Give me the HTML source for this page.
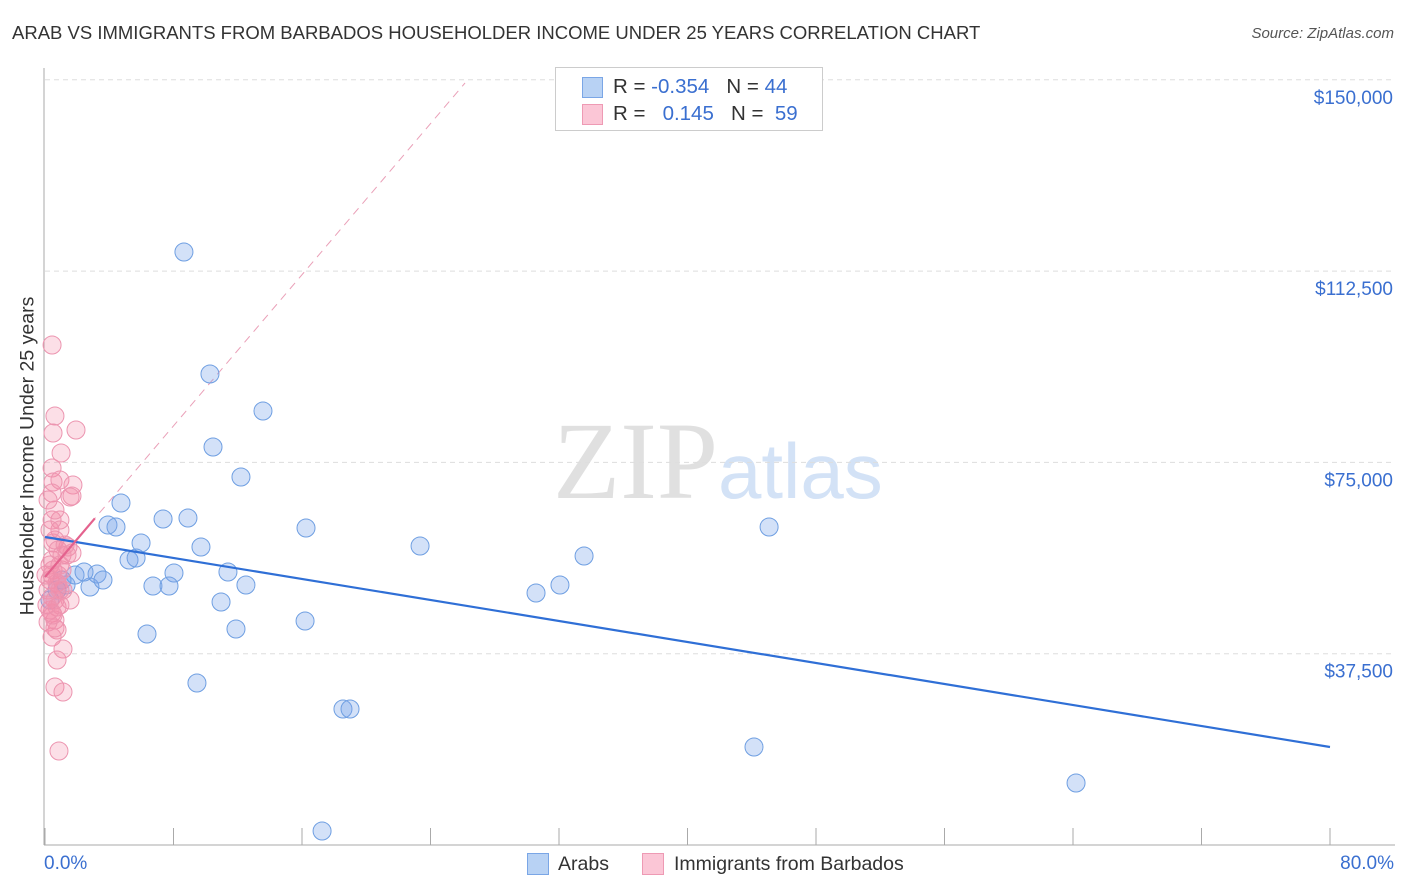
<!DOCTYPE html>
<html><head><meta charset="utf-8">
<style>
body{margin:0;background:#fff;font-family:"Liberation Sans",sans-serif;}
#wrap{position:relative;width:1406px;height:892px;overflow:hidden;}
.t{position:absolute;white-space:nowrap;}
</style></head><body>
<div id="wrap">
<div class="t" style="left:12px;top:22px;font-size:18.5px;color:#333;">ARAB VS IMMIGRANTS FROM BARBADOS HOUSEHOLDER INCOME UNDER 25 YEARS CORRELATION CHART</div>
<div class="t" style="right:12px;top:25px;font-size:15px;color:#555;font-style:italic;">Source: ZipAtlas.com</div>
<div class="t" style="left:553px;top:398px;font-size:110px;color:#e0e0e0;font-family:'Liberation Serif',serif;">ZIP<span style="font-family:'Liberation Sans',sans-serif;color:#d3e2f6;font-size:78px;">atlas</span></div>
<svg id="svg" width="1406" height="892" style="position:absolute;left:0;top:0"></svg>
<div class="t" style="left:555px;top:67px;width:266px;height:62px;border:1px solid #ccc;background:#fff;">
 <div style="position:absolute;left:26px;top:9px;width:19px;height:19px;background:#b8d2f4;border:1px solid #7aa6e6;"></div>
 <div style="position:absolute;left:26px;top:36px;width:19px;height:19px;background:#fbc6d6;border:1px solid #ee9ab4;"></div>
 <div class="t" style="left:57px;top:7px;font-size:20.5px;color:#333;">R = <span style="color:#3a6fd0">-0.354</span>&nbsp;&nbsp;&nbsp;N = <span style="color:#3a6fd0">44</span></div>
 <div class="t" style="left:57px;top:34px;font-size:20.5px;color:#333;">R = &nbsp;&nbsp;<span style="color:#3a6fd0">0.145</span>&nbsp;&nbsp;&nbsp;N = &nbsp;<span style="color:#3a6fd0">59</span></div>
</div>
<div class="t" style="left:527px;top:853px;width:20px;height:20px;background:#b8d2f4;border:1px solid #7aa6e6;"></div>
<div class="t" style="left:558px;top:853px;font-size:19.5px;color:#333;">Arabs</div>
<div class="t" style="left:642px;top:853px;width:20px;height:20px;background:#fbc6d6;border:1px solid #ee9ab4;"></div>
<div class="t" style="left:674px;top:853px;font-size:19.5px;color:#333;">Immigrants from Barbados</div>
<div class="t" style="left:44px;top:853px;font-size:19px;color:#3a6fd0;">0.0%</div>
<div class="t" style="right:12px;top:853px;font-size:19px;color:#3a6fd0;">80.0%</div>
<div class="t" style="left:28px;top:456px;font-size:19.5px;color:#333;transform:translate(-50%,-50%) rotate(-90deg);">Householder Income Under 25 years</div>
</div>
<script>
const yTicks=[37500,75000,112500,150000];
const yTickLabels=["$37,500","$75,000","$112,500","$150,000"];
const arabX=[8.65,10.27,13.57,10.46,12.20,4.73,3.92,4.42,7.35,8.90,5.98,5.23,5.67,9.71,16.25,23.35,45.08,33.56,32.06,30.57,8.03,11.39,6.72,7.72,12.51,10.96,11.89,6.35,16.19,9.46,18.55,18.99,44.14,64.19,17.25,1.31,1.87,2.80,3.24,3.61,1.06,2.43,0.75,0.31];
const arabY=[116250,92330,85080,78020,72140,67040,62730,62340,63900,64100,59200,55870,56260,58420,62140,58610,62340,56650,50970,49400,53320,53520,50770,50770,50970,47630,42340,41360,43910,31760,26660,26660,19210,12150,2740,50970,52930,50580,53120,51950,51950,53520,49990,48030];
const barbX=[0.44,0.62,0.50,1.93,1.00,0.44,0.50,0.93,1.74,1.68,0.44,0.44,0.93,0.93,0.50,1.43,1.68,0.44,0.50,1.06,0.31,0.75,1.12,1.56,0.44,0.75,0.44,0.62,0.75,0.44,1.12,0.75,0.62,1.12,0.87,0.62,0.81,0.31,0.81,1.06,0.19,0.62,0.93,0.31,0.19,0.62,1.37,0.06,0.93,0.31,0.62,0.19,1.56,0.81,0.44,1.25,0.50,0.93,0.12];
const barbY=[98015,84100,80760,81350,76840,73900,71160,71550,70570,68410,69000,63710,63710,61750,59200,58420,57240,55870,53910,53910,51950,51360,49990,48030,48610,46660,45480,44110,42150,40770,38420,36260,30970,29990,18430,59790,57830,54890,52930,56850,49990,48030,47050,46070,43710,42540,56850,52930,54890,61750,65670,67630,68220,50970,52930,58810,45090,49990,47050];
const arabTrend=[60380,19210];
const barbTrend=[52540,3703];
const barbSolidEnd=3.1, barbDashEnd=26.15;

const NS="http://www.w3.org/2000/svg", svg=document.getElementById('svg');
const X=v=>45+v/80*1285, Y=v=>845-v/37500*191.3;
function mk(t,a){const e=document.createElementNS(NS,t);for(const k in a)e.setAttribute(k,a[k]);svg.appendChild(e);return e;}
yTicks.forEach((v,i)=>{
  const g=mk('line',{x1:45,x2:1395,y1:Y(v),y2:Y(v),stroke:'#ddd','stroke-dasharray':'5,4'});
  
  
  const t=mk('text',{x:1393,y:Y(v)+24,'text-anchor':'end','font-size':19,fill:'#3a6fd0','font-family':'Liberation Sans, sans-serif'});
  t.textContent=yTickLabels[i];
  
  
});
const a1=mk('line',{x1:44,x2:44,y1:68,y2:845,stroke:'#aaa'});


const a2=mk('line',{x1:44,x2:1395,y1:845,y2:845,stroke:'#aaa'});


for(let i=0;i<=10;i++){
  const tk=mk('line',{x1:X(i*8),x2:X(i*8),y1:828,y2:845,stroke:'#aaa'});
  
  
}
const bd=mk('line',{x1:X(0),y1:Y(barbTrend[0]),x2:X(barbDashEnd),y2:Y(barbTrend[0]+barbTrend[1]*barbDashEnd),stroke:'#eaa0b8','stroke-dasharray':'8,6','stroke-width':1});


arabX.forEach((x,i)=>{
  const c=mk('circle',{cx:X(x),cy:Y(arabY[i]),r:9,fill:'rgba(120,165,235,0.33)',stroke:'#6f9fe2','stroke-width':1});
  
  
});
barbX.forEach((x,i)=>{
  const c=mk('circle',{cx:X(x),cy:Y(barbY[i]),r:9,fill:'rgba(245,140,170,0.28)',stroke:'#ec95b0','stroke-width':1});
  
  
});
const at=mk('line',{x1:X(0),y1:Y(arabTrend[0]),x2:X(80),y2:Y(arabTrend[1]),stroke:'#2f6fd6','stroke-width':2.2});


const bs=mk('line',{x1:X(0),y1:Y(barbTrend[0]),x2:X(barbSolidEnd),y2:Y(barbTrend[0]+barbTrend[1]*barbSolidEnd),stroke:'#e4628e','stroke-width':2.2});


</script>
</body></html>
